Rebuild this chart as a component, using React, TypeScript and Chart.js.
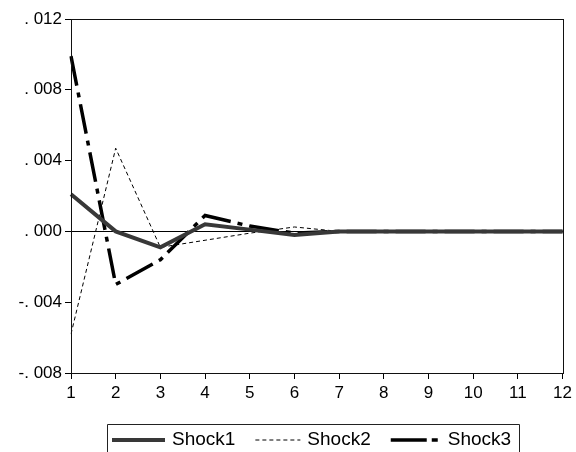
import React, { useEffect, useRef } from "react";
import { Chart, registerables } from "chart.js";

Chart.register(...registerables);

const categories = ["1", "2", "3", "4", "5", "6", "7", "8", "9", "10", "11", "12"];
const shock1 = [0.0021, 0.0, -0.0009, 0.0004, 0.0001, -0.0002, 0.0, 0.0, 0.0, 0.0, 0.0, 0.0];
const shock2 = [-0.0058, 0.0047, -0.0009, -0.0005, -0.0001, 0.00025, 0.0, 0.0, 0.0, 0.0, 0.0, 0.0];
const shock3 = [0.0099, -0.003, -0.0016, 0.0009, 0.0003, -0.0001, 0.0, 0.0, 0.0, 0.0, 0.0, 0.0];
const seriesNames = ["Shock1", "Shock2", "Shock3"];
const yMin = -0.008;
const yMax = 0.012;
const yStep = 0.004;

const FONT = "'Liberation Sans', Arial, Helvetica, sans-serif";

function fmtTick(v: number): string {
  const n = Math.round(Math.abs(v) * 1000);
  const s = String(n).padStart(3, "0");
  return (v < -1e-9 ? "-. " : ". ") + s;
}

const framePlugin = {
  id: "frame",
  beforeDatasetsDraw(chart: any) {
    const { ctx, chartArea } = chart;
    const y0 = chart.scales.y.getPixelForValue(0);
    ctx.save();
    ctx.strokeStyle = "#000";
    ctx.lineWidth = 1;
    ctx.beginPath();
    ctx.moveTo(chartArea.left, Math.round(y0) + 0.5);
    ctx.lineTo(chartArea.right, Math.round(y0) + 0.5);
    ctx.stroke();
    ctx.restore();
  },
  afterDraw(chart: any) {
    const { ctx, chartArea } = chart;
    ctx.save();
    ctx.strokeStyle = "#111";
    ctx.lineWidth = 1;
    ctx.strokeRect(
      Math.round(chartArea.left) + 0.5,
      Math.round(chartArea.top) + 0.5,
      Math.round(chartArea.right - chartArea.left),
      Math.round(chartArea.bottom - chartArea.top)
    );
    // legend
    const boxLeft = 107;
    const boxTop = 424;
    const cy = 440;
    ctx.font = "19px " + FONT;
    ctx.textBaseline = "middle";
    ctx.fillStyle = "#000";
    const items = [
      { w: 53, color: "#383838", lw: 4, dash: [] as number[] },
      { w: 45, color: "#000", lw: 1, dash: [4, 3] },
      { w: 50, color: "#000", lw: 3.5, dash: [36, 5, 6, 100] },
    ];
    let x = boxLeft + 5;
    items.forEach((it, i) => {
      ctx.save();
      ctx.strokeStyle = it.color;
      ctx.lineWidth = it.lw;
      ctx.setLineDash(it.dash);
      ctx.beginPath();
      ctx.moveTo(x, cy);
      ctx.lineTo(x + it.w, cy);
      ctx.stroke();
      ctx.restore();
      x += it.w + 7;
      ctx.fillText(seriesNames[i], x, cy);
      x += ctx.measureText(seriesNames[i]).width;
      if (i < items.length - 1) x += 20;
    });
    const boxRight = x + 8;
    ctx.strokeStyle = "#222";
    ctx.lineWidth = 1;
    ctx.setLineDash([]);
    ctx.beginPath();
    ctx.moveTo(boxLeft + 0.5, 460);
    ctx.lineTo(boxLeft + 0.5, boxTop + 0.5);
    ctx.lineTo(Math.round(boxRight) + 0.5, boxTop + 0.5);
    ctx.lineTo(Math.round(boxRight) + 0.5, 460);
    ctx.stroke();
    ctx.restore();
  },
};

export default function App() {
  const ref = useRef<HTMLCanvasElement | null>(null);
  useEffect(() => {
    if (!ref.current) return;
    const chart = new Chart(ref.current, {
      type: "line",
      data: {
        labels: categories,
        datasets: [
          {
            label: seriesNames[0],
            data: shock1,
            borderColor: "#383838",
            borderWidth: 4,
            pointRadius: 0,
            tension: 0,
          },
          {
            label: seriesNames[1],
            data: shock2,
            borderColor: "#000",
            borderWidth: 1,
            borderDash: [4, 3],
            pointRadius: 0,
            tension: 0,
          },
          {
            label: seriesNames[2],
            data: shock3,
            borderColor: "#000",
            borderWidth: 3.5,
            borderDash: [30, 7, 5, 7],
            pointRadius: 0,
            tension: 0,
          },
        ],
      },
      options: {
        animation: false,
        responsive: true,
        maintainAspectRatio: false,
        layout: { padding: { top: 19, right: 9, bottom: 49, left: 0 } },
        plugins: {
          legend: { display: false },
          tooltip: { enabled: false },
        },
        scales: {
          x: {
            offset: false,
            grid: { drawOnChartArea: false, tickColor: "#000", tickLength: 6 },
            border: { color: "#000" },
            ticks: {
              color: "#000",
              font: { family: FONT, size: 17 },
              padding: 4,
              maxRotation: 0,
              autoSkip: false,
            },
            afterFit: (s: any) => {
              s.height = 30;
            },
          },
          y: {
            min: yMin,
            max: yMax,
            grid: { drawOnChartArea: false, tickColor: "#000", tickLength: 6 },
            border: { color: "#000" },
            ticks: {
              stepSize: yStep,
              color: "#000",
              font: { family: FONT, size: 17 },
              padding: 3,
              callback: (v: any) => fmtTick(Number(v)),
            },
            afterFit: (s: any) => {
              s.width = 71;
            },
          },
        },
      },
      plugins: [framePlugin],
    });
    return () => chart.destroy();
  }, []);
  return (
    <div style={{ position: "fixed", left: 0, top: 0, width: 576, height: 452, background: "#fff" }}>
      <canvas ref={ref} />
    </div>
  );
}
